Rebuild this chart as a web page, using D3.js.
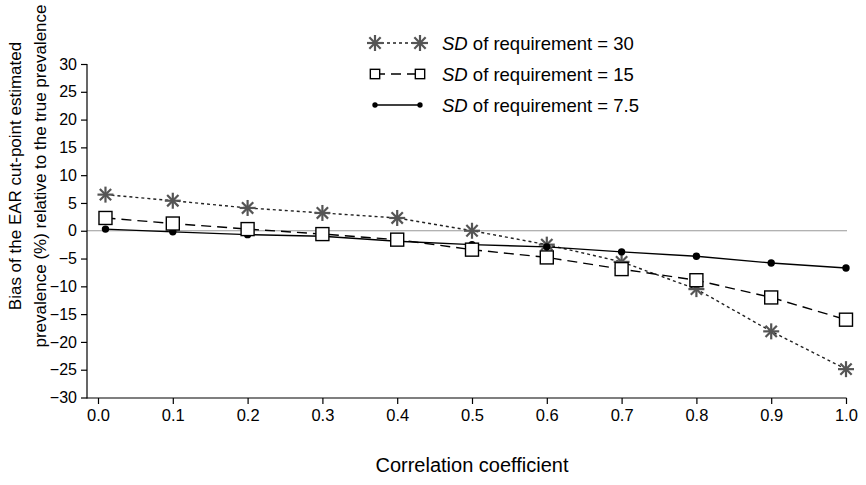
<!DOCTYPE html>
<html>
<head>
<meta charset="utf-8">
<script src="https://cdn.jsdelivr.net/npm/d3@7"></script>
<style>
  body { margin: 0; background: #fff; }
  svg { display: block; font-family: "Liberation Sans", Arial, Helvetica, sans-serif; }
</style>
</head>
<body>
<svg id="chart" width="866" height="485"></svg>
<script>
// ---- data ----
const correlation = [0.01, 0.1, 0.2, 0.3, 0.4, 0.5, 0.6, 0.7, 0.8, 0.9, 1.0];
const sd30 = [6.5, 5.4, 4.1, 3.2, 2.3, 0.0, -2.5, -5.6, -10.5, -18.1, -24.9];
const sd15 = [2.3, 1.3, 0.3, -0.6, -1.6, -3.4, -4.8, -6.9, -8.9, -12.0, -16.0];
const sd75 = [0.3, -0.2, -0.7, -1.0, -1.9, -2.5, -2.9, -3.8, -4.6, -5.8, -6.7];
const xTicks = [0, 0.1, 0.2, 0.3, 0.4, 0.5, 0.6, 0.7, 0.8, 0.9, 1.0];
const yTicks = [30, 25, 20, 15, 10, 5, 0, -5, -10, -15, -20, -25, -30];
const legendLabels = ["30", "15", "7.5"];

const svg = d3.select("#chart");
const x = d3.scaleLinear().domain([0, 1]).range([98, 846]);
const y = d3.scaleLinear().domain([-30, 30]).range([397.5, 64]);
const axisLeftX = 87;
const axisBottomY = y(-30) + 0.5;

// zero reference line
svg.append("line")
  .attr("x1", axisLeftX).attr("x2", x(1) + 1)
  .attr("y1", y(0)).attr("y2", y(0))
  .attr("stroke", "#999").attr("stroke-width", 1.2);

// Y axis
const gy = svg.append("g").attr("transform", `translate(${axisLeftX},0)`)
  .call(d3.axisLeft(y).tickValues(yTicks).tickSize(6).tickPadding(4).tickFormat(d3.format("d")));
gy.select(".domain").remove();
gy.selectAll(".tick line").attr("stroke", "#000").attr("stroke-width", 1.2);
gy.selectAll(".tick text").attr("font-size", 16).attr("fill", "#000")
  .attr("font-family", "Liberation Sans, Arial, sans-serif");
svg.append("line").attr("x1", axisLeftX).attr("x2", axisLeftX)
  .attr("y1", y(30)).attr("y2", axisBottomY + 0.6)
  .attr("stroke", "#000").attr("stroke-width", 1.2);

// X axis
const gx = svg.append("g").attr("transform", `translate(0,${axisBottomY})`)
  .call(d3.axisBottom(x).tickValues(xTicks).tickSize(6).tickPadding(5).tickFormat(d3.format(".1f")));
gx.select(".domain").remove();
gx.selectAll(".tick line").attr("stroke", "#000").attr("stroke-width", 1.2);
gx.selectAll(".tick text").attr("font-size", 16.5).attr("fill", "#000")
  .attr("font-family", "Liberation Sans, Arial, sans-serif");
svg.append("line").attr("x1", axisLeftX).attr("x2", x(1) + 0.6)
  .attr("y1", axisBottomY).attr("y2", axisBottomY)
  .attr("stroke", "#000").attr("stroke-width", 1.2);

// axis titles
svg.append("text").attr("x", x(0.5)).attr("y", 472)
  .attr("text-anchor", "middle").attr("font-size", 20).text("Correlation coefficient");
const yt = svg.append("text").attr("transform", "translate(0,176) rotate(-90)")
  .attr("text-anchor", "middle").attr("font-size", 17);
yt.append("tspan").attr("x", 0).attr("y", 21).text("Bias of the EAR cut-point estimated");
yt.append("tspan").attr("x", 0).attr("y", 46).text("prevalence (%) relative to the true prevalence");

// series
const series = [
  { values: sd30, dash: "3,3", stroke: "#222", marker: "star" },
  { values: sd15, dash: "10,6", stroke: "#000", marker: "square" },
  { values: sd75, dash: null, stroke: "#000", marker: "dot" }
];
const line = d3.line().x(d => x(d[0])).y(d => y(d[1]));

series.forEach(s => {
  svg.append("path")
    .datum(correlation.map((c, i) => [c, s.values[i]]))
    .attr("d", line).attr("fill", "none")
    .attr("stroke", s.stroke).attr("stroke-width", 1.4)
    .attr("stroke-dasharray", s.dash);
});

function drawMarker(g, type, cx, cy, scale) {
  if (type === "star") {
    const r = 8 * scale;
    for (let k = 0; k < 4; k++) {
      const a = k * Math.PI / 4;
      g.append("line")
        .attr("x1", cx - r * Math.cos(a)).attr("y1", cy - r * Math.sin(a))
        .attr("x2", cx + r * Math.cos(a)).attr("y2", cy + r * Math.sin(a))
        .attr("stroke", "#555").attr("stroke-width", 2.2);
    }
  } else if (type === "square") {
    const h = 6.5 * scale;
    g.append("rect").attr("x", cx - h).attr("y", cy - h)
      .attr("width", 2 * h).attr("height", 2 * h)
      .attr("fill", "#fff").attr("stroke", "#000").attr("stroke-width", 1.4);
  } else {
    g.append("circle").attr("cx", cx).attr("cy", cy).attr("r", 3.7 * scale).attr("fill", "#000");
  }
}

const order = [0, 2, 1];
order.forEach(si => {
  const s = series[si];
  const g = svg.append("g");
  correlation.forEach((c, i) => drawMarker(g, s.marker, x(c), y(s.values[i]), 1));
});

// legend
const legendY = [43, 74, 105];
series.forEach((s, i) => {
  const g = svg.append("g");
  g.append("line").attr("x1", 375).attr("x2", 420)
    .attr("y1", legendY[i]).attr("y2", legendY[i])
    .attr("stroke", s.stroke).attr("stroke-width", 1.4)
    .attr("stroke-dasharray", s.dash);
  const sc = s.marker === "star" ? 1 : 0.72;
  drawMarker(g, s.marker, 375, legendY[i], sc);
  drawMarker(g, s.marker, 420, legendY[i], sc);
  const t = g.append("text").attr("x", 442).attr("y", legendY[i] + 6.5).attr("font-size", 18.5);
  t.append("tspan").attr("font-style", "italic").text("SD");
  t.append("tspan").text(" of requirement = " + legendLabels[i]);
});
</script>
</body>
</html>
